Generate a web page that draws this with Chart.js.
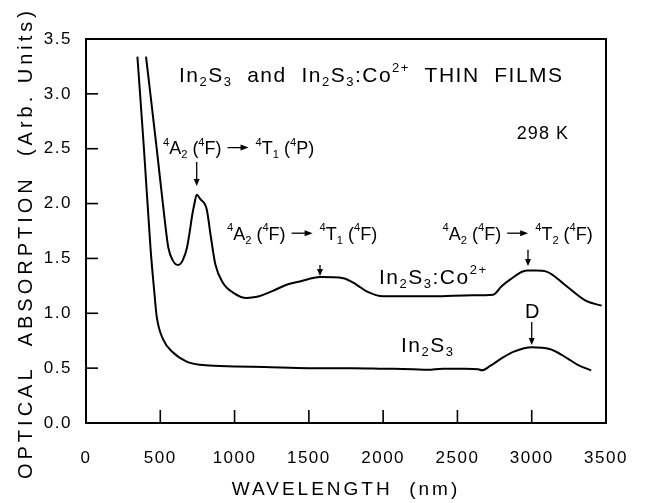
<!DOCTYPE html>
<html>
<head>
<meta charset="utf-8">
<style>
  html, body { margin: 0; padding: 0; background: #fff; }
  canvas { display: block; }
</style>
<script src="https://cdn.jsdelivr.net/npm/chart.js@4"></script>
</head>
<body>
<canvas id="absChart" width="651" height="503"></canvas>
<script>
// wavelength (nm) / absorption (arb. units)
var wlIn2S3 = [346, 390, 435, 458, 476, 520, 588, 678, 767, 900, 1000, 1200, 1500, 1800, 2000, 2200, 2300, 2400, 2550, 2640, 2665, 2720, 2810, 2880, 3000, 3120, 3240, 3310, 3400];
var absIn2S3 = [3.34, 2.50, 1.58, 1.22, 0.97, 0.76, 0.64, 0.56, 0.53, 0.52, 0.515, 0.51, 0.50, 0.50, 0.495, 0.49, 0.485, 0.495, 0.495, 0.49, 0.48, 0.52, 0.60, 0.65, 0.69, 0.675, 0.59, 0.53, 0.48];

var wlCo = [404, 476, 530, 554, 585, 619, 650, 680, 700, 713, 730, 745, 770, 812, 840, 870, 920, 1000, 1080, 1150, 1250, 1350, 1440, 1575, 1732, 1822, 1889, 2001, 2338, 2600, 2741, 2797, 2854, 2966, 3030, 3100, 3235, 3370, 3471];
var absCo = [3.34, 2.50, 1.85, 1.60, 1.48, 1.44, 1.48, 1.60, 1.76, 1.88, 2.0, 2.08, 2.04, 1.95, 1.70, 1.45, 1.28, 1.18, 1.14, 1.15, 1.20, 1.26, 1.29, 1.33, 1.32, 1.26, 1.20, 1.155, 1.155, 1.165, 1.17, 1.246, 1.307, 1.39, 1.39, 1.38, 1.246, 1.11, 1.07];

var xMin = 0, xMax = 3500, xStep = 500;
var yMin = 0, yMax = 3.5, yStep = 0.5;

var FONT = '"Liberation Sans", Arial, sans-serif';

function toPoints(xs, ys) {
    return xs.map(function (v, i) { return { x: v, y: ys[i] }; });
}

// split "^4A_2" style strings into normal / sup / sub / arrow pieces
function parseRich(str) {
    var out = [], buf = '';
    for (var i = 0; i < str.length; i++) {
        var c = str[i];
        if (c === '^' || c === '_') {
            if (buf) { out.push({ k: 'n', s: buf }); buf = ''; }
            var s;
            if (str[i + 1] === '{') {
                var j = str.indexOf('}', i);
                s = str.slice(i + 2, j);
                i = j;
            } else {
                s = str[i + 1];
                i++;
            }
            out.push({ k: c === '^' ? 'sup' : 'sub', s: s });
        } else if (c === '>') {
            if (buf) { out.push({ k: 'n', s: buf }); buf = ''; }
            out.push({ k: 'arrow' });
        } else {
            buf += c;
        }
    }
    if (buf) out.push({ k: 'n', s: buf });
    return out;
}

function drawRich(ctx, str, x, yMid, size, spacing) {
    var base = yMid + size * 0.36;
    var cx = x;
    ctx.letterSpacing = spacing + 'px';
    parseRich(str).forEach(function (t) {
        if (t.k === 'arrow') {
            ctx.lineWidth = 1.3;
            ctx.beginPath();
            ctx.moveTo(cx + 1, yMid);
            ctx.lineTo(cx + 16, yMid);
            ctx.stroke();
            ctx.beginPath();
            ctx.moveTo(cx + 22, yMid);
            ctx.lineTo(cx + 14, yMid - 3);
            ctx.lineTo(cx + 14, yMid + 3);
            ctx.closePath();
            ctx.fill();
            cx += 24;
            return;
        }
        var s = t.k === 'n' ? size : size * 0.62;
        ctx.font = s + 'px ' + FONT;
        var yy = t.k === 'sub' ? base + size * 0.22 : (t.k === 'sup' ? base - size * 0.47 : base);
        ctx.fillText(t.s, cx, yy);
        cx += ctx.measureText(t.s).width;
    });
}

function arrowDown(ctx, px, y1, y2) {
    ctx.lineWidth = 1.3;
    ctx.beginPath();
    ctx.moveTo(px, y1);
    ctx.lineTo(px, y2 - 5);
    ctx.stroke();
    ctx.beginPath();
    ctx.moveTo(px, y2);
    ctx.lineTo(px - 3, y2 - 7);
    ctx.lineTo(px + 3, y2 - 7);
    ctx.closePath();
    ctx.fill();
}

var spacingPlugin = {
    id: 'spacing',
    beforeDraw: function (chart) {
        chart.ctx.letterSpacing = '1.5px';
    }
};

var framePlugin = {
    id: 'frame',
    afterDraw: function (chart) {
        var ctx = chart.ctx, a = chart.chartArea;
        var xs = chart.scales.x, ys = chart.scales.y;
        ctx.save();
        ctx.strokeStyle = '#000';
        ctx.fillStyle = '#000';
        ctx.lineWidth = 2;
        ctx.strokeRect(a.left, a.top, a.right - a.left, a.bottom - a.top);

        // inward ticks
        ctx.lineWidth = 1.6;
        xs.ticks.forEach(function (t) {
            var px = xs.getPixelForValue(t.value);
            ctx.beginPath(); ctx.moveTo(px, a.bottom); ctx.lineTo(px, a.bottom - 13); ctx.stroke();
        });
        ys.ticks.forEach(function (t) {
            var py = ys.getPixelForValue(t.value);
            ctx.beginPath(); ctx.moveTo(a.left, py); ctx.lineTo(a.left + 12, py); ctx.stroke();
        });

        // axis titles
        ctx.textBaseline = 'middle';
        ctx.textAlign = 'center';
        ctx.font = '20px ' + FONT;
        ctx.letterSpacing = '4px';
        ctx.save();
        ctx.translate(26, (a.top + a.bottom) / 2 + 12);
        ctx.rotate(-Math.PI / 2);
        ctx.fillText('OPTICAL  ABSORPTION  (Arb. Units)', 0, 0);
        ctx.restore();
        ctx.font = '19px ' + FONT;
        ctx.letterSpacing = '3px';
        ctx.fillText('WAVELENGTH  (nm)', (a.left + a.right) / 2, 490);

        // annotations (positions in data units)
        ctx.textAlign = 'left';
        ctx.textBaseline = 'alphabetic';
        var notes = [
            { t: 'In_2S_3  and  In_2S_3:Co^{2+}  THIN  FILMS', x: 626, y: 3.18, size: 21, sp: 1.5 },
            { t: '298 K', x: 2900, y: 2.65, size: 18, sp: 1 },
            { t: '^4A_2 (^4F) > ^4T_1 (^4P)', x: 518, y: 2.51, size: 18, sp: 0 },
            { t: '^4A_2 (^4F) > ^4T_1 (^4F)', x: 949, y: 1.73, size: 18, sp: 0 },
            { t: '^4A_2 (^4F) > ^4T_2 (^4F)', x: 2400, y: 1.73, size: 18, sp: 0 },
            { t: 'In_2S_3:Co^{2+}', x: 1972, y: 1.34, size: 21, sp: 1.5 },
            { t: 'In_2S_3', x: 2120, y: 0.72, size: 21, sp: 1.5 },
            { t: 'D', x: 2955, y: 1.02, size: 20, sp: 0 }
        ];
        notes.forEach(function (n) {
            drawRich(ctx, n.t, xs.getPixelForValue(n.x), ys.getPixelForValue(n.y), n.size, n.sp);
        });

        var arrows = [[745, 2.38, 2.16], [1575, 1.44, 1.34], [2975, 1.58, 1.43], [3000, 0.92, 0.71]];
        arrows.forEach(function (r) {
            arrowDown(ctx, xs.getPixelForValue(r[0]), ys.getPixelForValue(r[1]), ys.getPixelForValue(r[2]));
        });
        ctx.restore();
    }
};

var ctx = document.getElementById('absChart').getContext('2d');
var myChart = new Chart(ctx, {
    type: 'line',
    data: {
        datasets: [{
            label: 'In2S3',
            data: toPoints(wlIn2S3, absIn2S3),
            borderColor: '#000',
            borderWidth: 2,
            pointRadius: 0,
            cubicInterpolationMode: 'monotone',
            fill: false
        }, {
            label: 'In2S3:Co2+',
            data: toPoints(wlCo, absCo),
            borderColor: '#000',
            borderWidth: 2,
            pointRadius: 0,
            cubicInterpolationMode: 'monotone',
            fill: false
        }]
    },
    options: {
        responsive: false,
        animation: false,
        devicePixelRatio: 1,
        layout: { padding: { left: 0, right: 45, top: 39, bottom: 0 } },
        plugins: {
            legend: { display: false },
            tooltip: { enabled: false }
        },
        scales: {
            x: {
                type: 'linear',
                min: xMin,
                max: xMax,
                afterFit: function (s) { s.height = 80; },
                grid: { display: false },
                border: { display: false },
                ticks: {
                    stepSize: xStep,
                    color: '#000',
                    padding: 17,
                    maxRotation: 0,
                    font: { family: FONT, size: 17 },
                    callback: function (v) { return String(v); }
                }
            },
            y: {
                min: yMin,
                max: yMax,
                afterFit: function (s) { s.width = 86; },
                grid: { display: false },
                border: { display: false },
                ticks: {
                    stepSize: yStep,
                    color: '#000',
                    padding: 6,
                    font: { family: FONT, size: 17 },
                    callback: function (v) { return v.toFixed(1); }
                }
            }
        }
    },
    plugins: [spacingPlugin, framePlugin]
});
</script>
</body>
</html>
